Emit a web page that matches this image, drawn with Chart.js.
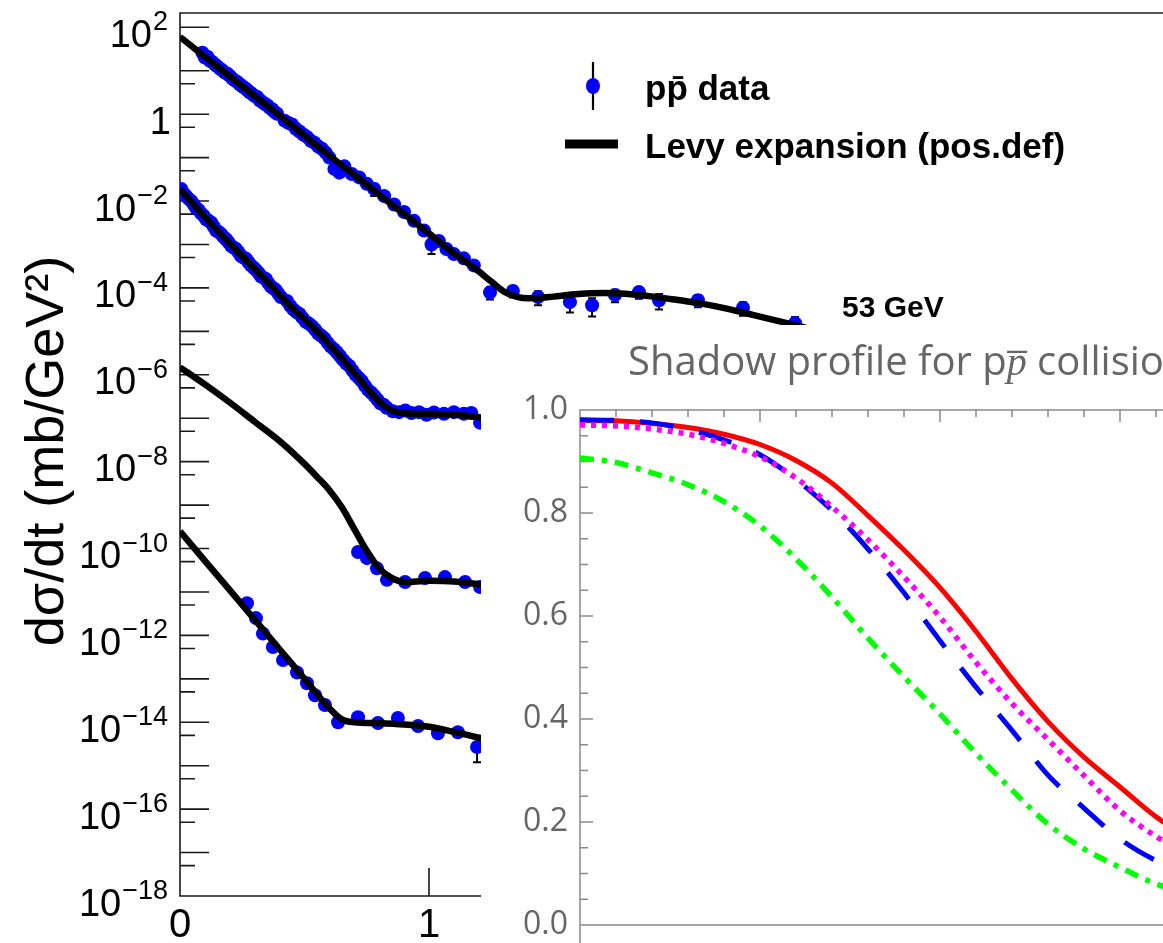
<!DOCTYPE html>
<html>
<head>
<meta charset="utf-8">
<title>Levy expansion fits and shadow profile</title>
<script src="https://cdn.jsdelivr.net/npm/chart.js@4.4.1/dist/chart.umd.min.js"></script>
<style>
  html, body { margin: 0; padding: 0; background: #fff; overflow: hidden; }
  #wrap { position: relative; width: 1163px; height: 943px; overflow: hidden; }
  #main { position: absolute; left: 0; top: 0; }
  #inset { position: absolute; left: 481px; top: 325px; background: #fff; }
</style>
</head>
<body>
<div id="wrap">
  <canvas id="main" width="1400" height="943"></canvas>
  <canvas id="inset" width="1050" height="640"></canvas>
</div>
<script>
// ---- main panel: dsigma/dt, four curves stacked with offsets ----
// top curve (53 GeV)
const fit1T = [0, 0.1, 0.2, 0.3, 0.4, 0.5, 0.6, 0.7, 0.8, 0.9, 1.0, 1.1, 1.2, 1.25, 1.3, 1.35, 1.4, 1.45, 1.5, 1.6, 1.7, 1.8, 1.9, 2.0, 2.1, 2.2, 2.3, 2.4, 2.5, 2.6];
const fit1V = [60, 21, 7.4, 2.6, 0.93, 0.32, 0.11, 0.040, 0.014, 5.0e-3, 1.8e-3, 6.3e-4, 2.4e-4, 1.4e-4, 8.3e-5, 6.3e-5, 5.75e-5, 5.9e-5, 6.3e-5, 7.2e-5, 7.6e-5, 7.2e-5, 6.3e-5, 5.25e-5, 4.3e-5, 3.3e-5, 2.4e-5, 1.74e-5, 1.26e-5, 8.0e-6];
const data1T = [0.09, 0.11, 0.13, 0.15, 0.17, 0.19, 0.21, 0.23, 0.25, 0.27, 0.29, 0.31, 0.33, 0.35, 0.37, 0.39,
  0.42, 0.45, 0.48, 0.51, 0.54, 0.57, 0.60, 0.62, 0.64, 0.66, 0.69, 0.72, 0.75, 0.78, 0.82, 0.86, 0.90, 0.94, 0.98,
  1.01, 1.04, 1.07, 1.10, 1.14, 1.18, 1.245, 1.337, 1.438, 1.566, 1.655, 1.747, 1.843, 1.924, 2.08, 2.261, 2.47];
const data1V = [26, 21, 16, 12.6, 10.2, 8.5, 6.6, 5.5, 4.4, 3.6, 2.9, 2.5, 1.9, 1.6, 1.3, 1.02,
  0.71, 0.58, 0.40, 0.30, 0.22, 0.16, 0.10, 0.055, 0.045, 0.063, 0.042, 0.035, 0.025, 0.019, 0.013, 8.3e-3, 5.6e-3, 3.5e-3, 2.1e-3,
  1.0e-3, 1.2e-3, 7.9e-4, 6.0e-4, 4.8e-4, 3.3e-4, 7.9e-5, 8.5e-5, 6.2e-5, 4.7e-5, 4.0e-5, 6.9e-5, 8.0e-5, 5.2e-5, 5.2e-5, 3.5e-5, 1.55e-5];
// more points of the same set in the dense part
const data1xT = [0.10, 0.12, 0.14, 0.16, 0.18, 0.20, 0.22, 0.24, 0.26, 0.28, 0.30, 0.32, 0.34, 0.36, 0.38, 0.435, 0.465, 0.495, 0.525, 0.555, 0.585];
const data1xV = [20, 17, 13.9, 11.2, 9.1, 7.6, 6.0, 4.9, 4.0, 3.2, 2.6, 2.1, 1.74, 1.4, 1.12, 0.63, 0.46, 0.34, 0.245, 0.18, 0.13];
// points of the top set whose error bars show
const err1T = [0.78, 1.01, 1.245, 1.337, 1.438, 1.566, 1.655, 1.747, 1.843, 1.924, 2.08, 2.261, 2.47];
const err1V = [0.019, 1.0e-3, 7.9e-5, 8.5e-5, 6.2e-5, 4.7e-5, 4.0e-5, 6.9e-5, 8.0e-5, 5.2e-5, 5.2e-5, 3.5e-5, 1.55e-5];
const err1E = [0.006, 4e-4, 2.5e-5, 2.5e-5, 2.2e-5, 2.0e-5, 1.8e-5, 2.2e-5, 2.4e-5, 2.0e-5, 1.6e-5, 1.2e-5, 6e-6];

// second curve
const fit2T = [0, 0.05, 0.1, 0.15, 0.2, 0.25, 0.3, 0.35, 0.4, 0.45, 0.5, 0.55, 0.6, 0.65, 0.7, 0.75, 0.8, 0.85, 0.9, 1.0, 1.1, 1.2, 1.3];
const fit2V = [1.9e-2, 8.9e-3, 4.3e-3, 2.1e-3, 1.05e-3, 5.4e-4, 2.75e-4, 1.4e-4, 6.9e-5, 3.5e-5, 1.9e-5, 1.0e-5, 5.0e-6, 2.4e-6, 1.1e-6, 5.0e-7, 2.4e-7, 1.5e-7, 1.3e-7, 1.26e-7, 1.2e-7, 1.05e-7, 8.5e-8];
const data2T = [0.005, 0.025, 0.045, 0.065, 0.085, 0.105, 0.125, 0.145, 0.165, 0.185, 0.205, 0.225, 0.245, 0.265, 0.285, 0.305, 0.325, 0.345, 0.365, 0.385, 0.405,
  0.43, 0.455, 0.48, 0.505, 0.53, 0.555, 0.58, 0.605, 0.63, 0.655, 0.68, 0.705, 0.73, 0.755, 0.78, 0.805, 0.83, 0.855, 0.88, 0.905,
  0.93, 0.96, 0.99, 1.02, 1.06, 1.10, 1.14, 1.17, 1.205];
const data2V = [1.9e-2, 1.3e-2, 1.0e-2, 6.8e-3, 5.2e-3, 3.8e-3, 3.2e-3, 2.1e-3, 1.74e-3, 1.32e-3, 9.3e-4, 7.9e-4, 5.4e-4, 4.7e-4, 3.3e-4, 2.6e-4, 1.86e-4, 1.6e-4, 1.07e-4, 8.9e-5, 6.2e-5,
  5.0e-5, 3.2e-5, 2.5e-5, 1.66e-5, 1.32e-5, 8.9e-6, 6.9e-6, 4.5e-6, 3.3e-6, 2.2e-6, 1.6e-6, 1.0e-6, 7.2e-7, 4.5e-7, 3.3e-7, 2.2e-7, 1.74e-7, 1.45e-7, 1.38e-7, 1.5e-7,
  1.32e-7, 1.38e-7, 1.2e-7, 1.35e-7, 1.26e-7, 1.38e-7, 1.26e-7, 1.32e-7, 7.9e-8];
const data2xT = [0.015, 0.035, 0.055, 0.075, 0.095, 0.115, 0.135, 0.155, 0.175, 0.195, 0.215, 0.235, 0.255, 0.275, 0.295, 0.315, 0.335, 0.355, 0.375, 0.395,
  0.4425, 0.4675, 0.4925, 0.5175, 0.5425, 0.5675, 0.5925, 0.6175, 0.6425, 0.6675, 0.6925, 0.7175, 0.7425, 0.7675, 0.7925, 0.8175];
const data2xV = [1.5e-2, 1.12e-2, 8.3e-3, 6.2e-3, 4.6e-3, 3.5e-3, 2.6e-3, 1.95e-3, 1.48e-3, 1.12e-3, 8.5e-4, 6.6e-4, 5.0e-4, 3.9e-4, 2.95e-4, 2.24e-4, 1.7e-4, 1.29e-4, 9.8e-5, 7.4e-5,
  3.9e-5, 2.8e-5, 2.04e-5, 1.51e-5, 1.1e-5, 7.9e-6, 5.5e-6, 3.9e-6, 2.7e-6, 1.82e-6, 1.26e-6, 8.5e-7, 5.6e-7, 3.9e-7, 2.7e-7, 2.04e-7];

// third curve
const fit3T = [0, 0.1, 0.2, 0.3, 0.4, 0.5, 0.55, 0.6, 0.65, 0.7, 0.75, 0.8, 0.85, 0.9, 1.0, 1.1, 1.2, 1.3];
const fit3V = [1.48e-6, 6.0e-7, 2.3e-7, 8.3e-8, 3.0e-8, 8.9e-9, 4.5e-9, 2.2e-9, 8.9e-10, 2.8e-10, 8.9e-11, 3.5e-11, 2.1e-11, 1.7e-11, 1.8e-11, 1.75e-11, 1.5e-11, 1.2e-11];
const data3T = [0.715, 0.751, 0.791, 0.831, 0.904, 0.984, 1.064, 1.145, 1.205];
const data3V = [8.3e-11, 6.0e-11, 3.5e-11, 1.9e-11, 1.7e-11, 2.1e-11, 2.2e-11, 1.7e-11, 1.3e-11];

// bottom curve
const fit4T = [0, 0.1, 0.2, 0.3, 0.4, 0.5, 0.6, 0.65, 0.7, 0.8, 0.9, 1.0, 1.1, 1.2, 1.3];
const fit4V = [2.5e-10, 5.2e-11, 1.1e-11, 2.3e-12, 4.8e-13, 1.0e-13, 2.1e-14, 1.17e-14, 1.0e-14, 9.5e-15, 8.9e-15, 7.9e-15, 6.0e-15, 4.4e-15, 3.2e-15];
const data4T = [0.269, 0.305, 0.333, 0.373, 0.414, 0.47, 0.51, 0.542, 0.582, 0.635, 0.715, 0.795, 0.875, 0.956, 1.036, 1.116, 1.193];
const data4V = [5.5e-12, 2.5e-12, 1.1e-12, 5.4e-13, 2.7e-13, 1.4e-13, 7.9e-14, 4.2e-14, 2.5e-14, 1.0e-14, 1.3e-14, 9.6e-15, 1.25e-14, 8.2e-15, 5.6e-15, 5.9e-15, 2.7e-15];
const err4T = [1.193];
const err4V = [2.7e-15];
const err4E = [1.5e-15];

// axis ticks of the main panel
const yLabelExp = [2, 0, -2, -4, -6, -8, -10, -12, -14, -16, -18];
const xLabels = [0, 1, 2, 3, 4];

// ---- inset: shadow profile ----
const bVals = [0, 0.1, 0.2, 0.3, 0.4, 0.5, 0.6, 0.7, 0.8, 0.9, 1.0, 1.1, 1.2, 1.3, 1.4, 1.5, 1.6, 1.7, 1.8, 2.0, 2.2, 2.5];
const shadowRed = [0.980, 0.979, 0.974, 0.966, 0.953, 0.933, 0.902, 0.858, 0.795, 0.728, 0.655, 0.570, 0.478, 0.395, 0.326, 0.268, 0.210, 0.163, 0.125, 0.070, 0.038, 0.015];
const shadowMagenta = [0.971, 0.969, 0.963, 0.953, 0.935, 0.909, 0.868, 0.812, 0.748, 0.676, 0.598, 0.510, 0.430, 0.360, 0.290, 0.222, 0.172, 0.132, 0.100, 0.055, 0.028, 0.010];
const shadowBlue = [0.981, 0.980, 0.975, 0.962, 0.942, 0.913, 0.865, 0.805, 0.730, 0.645, 0.552, 0.462, 0.378, 0.291, 0.227, 0.167, 0.125, 0.095, 0.070, 0.037, 0.018, 0.006];
const shadowGreen = [0.907, 0.898, 0.878, 0.855, 0.822, 0.775, 0.711, 0.637, 0.557, 0.482, 0.410, 0.333, 0.262, 0.196, 0.148, 0.112, 0.080, 0.060, 0.045, 0.024, 0.012, 0.004];
const insetYLabels = [0, 0.2, 0.4, 0.6, 0.8, 1.0];

Chart.defaults.font.family = '"Liberation Sans", Arial, sans-serif';
Chart.defaults.animation = false;

const pts = (xs, ys) => xs.map((x, i) => ({ x: x, y: ys[i] }));

const fitLine = (t, v) => ({
  data: pts(t, v), borderColor: '#000', borderWidth: 6.5, pointRadius: 0,
  cubicInterpolationMode: 'monotone', order: 0
});
const dataPts = (t, v) => ({
  data: pts(t, v), showLine: false, pointRadius: 7, pointBackgroundColor: '#0000ff',
  pointBorderWidth: 0, order: 1
});

const errSeries = [
  { t: err1T, v: err1V, e: err1E },
  { t: err4T, v: err4V, e: err4E }
];

const errorBars = {
  id: 'errorBars',
  beforeDatasetsDraw(chart) {
    const { ctx, chartArea: a, scales: { x, y } } = chart;
    ctx.save();
    ctx.beginPath();
    ctx.rect(a.left, a.top, a.right - a.left, a.bottom - a.top);
    ctx.clip();
    ctx.strokeStyle = '#000';
    ctx.lineWidth = 2;
    errSeries.forEach(s => s.t.forEach((t, i) => {
      const e = s.e[i];
      const px = x.getPixelForValue(t);
      const lo = y.getPixelForValue(Math.max(s.v[i] - e, 1e-30));
      const hi = y.getPixelForValue(s.v[i] + e);
      ctx.beginPath();
      ctx.moveTo(px, lo); ctx.lineTo(px, hi);
      ctx.moveTo(px - 4, lo); ctx.lineTo(px + 4, lo);
      ctx.moveTo(px - 4, hi); ctx.lineTo(px + 4, hi);
      ctx.stroke();
    }));
    ctx.restore();
  }
};

const mainDecor = {
  id: 'mainDecor',
  beforeDatasetsDraw(chart) {
    const { ctx, chartArea: a, scales: { x, y } } = chart;
    ctx.save();
    ctx.strokeStyle = '#1a1a1a';
    ctx.lineWidth = 1.6;
    ctx.beginPath();
    ctx.moveTo(a.right, a.top); ctx.lineTo(a.left, a.top);
    ctx.lineTo(a.left, a.bottom); ctx.lineTo(a.right, a.bottom);
    // inward ticks: long at each decade, short at half of it
    for (let n = 2; n >= -18; n--) {
      const py = y.getPixelForValue(Math.pow(10, n));
      ctx.moveTo(a.left, py); ctx.lineTo(a.left + 29, py);
      if (n <= 1 && n >= -17) {
        const ps = y.getPixelForValue(5 * Math.pow(10, n - 1));
        ctx.moveTo(a.left, ps); ctx.lineTo(a.left + 15, ps);
      }
    }
    xLabels.forEach(v => {
      if (v === 0) return;
      const px = x.getPixelForValue(v);
      ctx.moveTo(px, a.bottom); ctx.lineTo(px, a.bottom - 28);
    });
    ctx.stroke();
    ctx.restore();
  },
  afterDraw(chart) {
    const { ctx, scales: { x, y } } = chart;
    ctx.save();
    ctx.fillStyle = '#000';
    ctx.textBaseline = 'alphabetic';
    // y tick labels with exponents
    yLabelExp.forEach(n => {
      const py = y.getPixelForValue(Math.pow(10, n));
      ctx.textAlign = 'right';
      if (n === 0) {
        ctx.font = '38px "Liberation Sans"';
        ctx.fillText('1', 171, py + 19.5);
        return;
      }
      const sup = (n < 0 ? '\u2212' : '') + Math.abs(n);
      ctx.font = '27px "Liberation Sans"';
      const w = ctx.measureText(sup).width;
      ctx.fillText(sup, 168, py + 3);
      ctx.font = '38px "Liberation Sans"';
      ctx.fillText('10', 168 - w - 1, py + 19.5);
    });
    // x tick labels
    ctx.font = '40px "Liberation Sans"';
    ctx.textAlign = 'center';
    xLabels.forEach(v => ctx.fillText(String(v), x.getPixelForValue(v), 937));
    // y axis title
    ctx.save();
    ctx.translate(63, 451);
    ctx.rotate(-Math.PI / 2);
    ctx.font = '54px "Liberation Sans"';
    ctx.fillText('d\u03c3/dt (mb/GeV\u00b2)', 0, 0);
    ctx.restore();
    // legend
    ctx.strokeStyle = '#000';
    ctx.lineWidth = 2.2;
    ctx.beginPath(); ctx.moveTo(593, 62); ctx.lineTo(593, 110); ctx.stroke();
    ctx.fillStyle = '#0000ff';
    ctx.beginPath(); ctx.ellipse(593, 86, 7, 8, 0, 0, Math.PI * 2); ctx.fill();
    ctx.lineWidth = 9;
    ctx.beginPath(); ctx.moveTo(565, 144); ctx.lineTo(618, 144); ctx.stroke();
    ctx.fillStyle = '#000';
    ctx.textAlign = 'left';
    ctx.font = 'bold 35px "Liberation Sans"';
    ctx.fillText('pp\u0304 data', 645, 100);
    ctx.fillText('Levy expansion (pos.def)', 645, 158);
    ctx.font = 'bold 30px "Liberation Sans"';
    ctx.fillText('53 GeV', 842, 317);
    ctx.restore();
  }
};

new Chart(document.getElementById('main'), {
  type: 'line',
  data: {
    datasets: [
      fitLine(fit1T, fit1V), dataPts(data1T, data1V), dataPts(data1xT, data1xV),
      fitLine(fit2T, fit2V), dataPts(data2T, data2V), dataPts(data2xT, data2xV),
      fitLine(fit3T, fit3V), dataPts(data3T, data3V),
      fitLine(fit4T, fit4V), dataPts(data4T, data4V)
    ]
  },
  options: {
    responsive: false,
    devicePixelRatio: 1,
    events: [],
    layout: { padding: { top: 13, right: 99.5, left: 0, bottom: 0 } },
    plugins: { legend: { display: false }, tooltip: { enabled: false } },
    scales: {
      x: {
        type: 'linear', min: 0, max: 4.5,
        grid: { display: false }, border: { display: false }, ticks: { display: false },
        afterFit: s => { s.height = 47; }
      },
      y: {
        type: 'logarithmic', min: 1e-18, max: 213.5, bounds: 'data',
        grid: { display: false }, border: { display: false }, ticks: { display: false },
        afterFit: s => { s.width = 180; }
      }
    }
  },
  plugins: [errorBars, mainDecor]
});

// ---- inset chart ----
const insetDecor = {
  id: 'insetDecor',
  beforeDatasetsDraw(chart) {
    const { ctx, chartArea: a, scales: { x, y } } = chart;
    ctx.save();
    ctx.strokeStyle = '#8a8a8a';
    ctx.lineWidth = 1.5;
    ctx.beginPath();
    ctx.moveTo(a.left, a.bottom); ctx.lineTo(a.left, a.top); ctx.lineTo(a.right, a.top);
    ctx.lineTo(a.right, a.bottom);
    const y0 = y.getPixelForValue(0);
    ctx.moveTo(a.left, y0); ctx.lineTo(a.right, y0);
    // top frame ticks every 0.1, longer every 0.5
    for (let k = 1; k < 25; k++) {
      const px = x.getPixelForValue(k / 10);
      ctx.moveTo(px, a.top); ctx.lineTo(px, a.top + (k % 5 === 0 ? 12 : 7));
    }
    // left ticks every 0.05, longer every 0.2
    for (let k = 0; k <= 20; k++) {
      const py = y.getPixelForValue(k * 0.05);
      ctx.moveTo(a.left, py); ctx.lineTo(a.left + (k % 4 === 0 ? 13 : 8), py);
    }
    ctx.stroke();
    ctx.restore();
  },
  afterDraw(chart) {
    const { ctx, chartArea: a, scales: { y } } = chart;
    ctx.save();
    ctx.fillStyle = '#666';
    ctx.textBaseline = 'alphabetic';
    ctx.textAlign = 'right';
    ctx.font = '32px "Open Sans"';
    insetYLabels.forEach(v => ctx.fillText(v.toFixed(1), a.left - 12, y.getPixelForValue(v) + 9));
    // title
    ctx.textAlign = 'left';
    let tx = 147;
    ctx.font = '40px "Open Sans"';
    const t1 = 'Shadow profile for p';
    ctx.fillText(t1, tx, 50);
    tx += ctx.measureText(t1).width;
    ctx.font = 'italic 40px "Open Sans"';
    const t2 = 'p\u0305';
    ctx.fillText(t2, tx, 50);
    tx += ctx.measureText(t2).width;
    ctx.font = '40px "Open Sans"';
    ctx.fillText(' collisions', tx, 50);
    ctx.restore();
  }
};

const profile = (vals, color, width, dash, order) => ({
  data: pts(bVals, vals), borderColor: color, borderWidth: width, borderDash: dash,
  borderCapStyle: 'butt', pointRadius: 0, cubicInterpolationMode: 'monotone', order: order
});

new Chart(document.getElementById('inset'), {
  type: 'line',
  data: {
    datasets: [
      profile(shadowRed, '#ff0000', 5, [], 3),
      profile(shadowBlue, '#0000ff', 5, [34, 26], 2),
      profile(shadowMagenta, '#ff00ff', 5.5, [5, 6], 1),
      profile(shadowGreen, '#00ff00', 5.5, [14, 8, 5, 8], 0)
    ]
  },
  options: {
    responsive: false,
    devicePixelRatio: 1,
    events: [],
    layout: { padding: { top: 85, right: 51, left: 0, bottom: 0 } },
    plugins: { legend: { display: false }, tooltip: { enabled: false } },
    scales: {
      x: {
        type: 'linear', min: 0, max: 2.5,
        grid: { display: false }, border: { display: false }, ticks: { display: false },
        afterFit: s => { s.height = 14.25; }
      },
      y: {
        type: 'linear', min: -0.05, max: 1,
        grid: { display: false }, border: { display: false }, ticks: { display: false },
        afterFit: s => { s.width = 99; }
      }
    }
  },
  plugins: [insetDecor]
});
</script>
</body>
</html>
